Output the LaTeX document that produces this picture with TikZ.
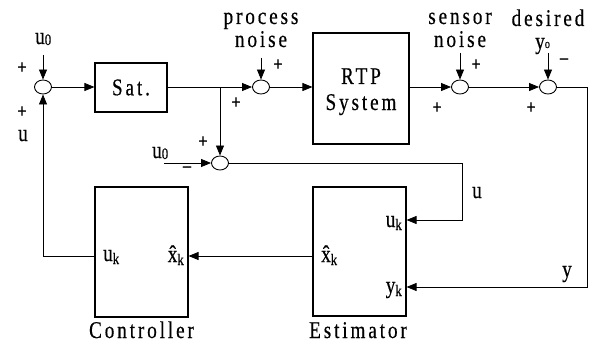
\documentclass[tikz,border=0pt]{standalone}
\usepackage{fontspec}
\setmainfont{Liberation Serif}[FakeStretch=0.8,LetterSpace=12,FakeBold=0.4]
\usetikzlibrary{arrows.meta,shapes.geometric}
\newcommand\sbs[2][3pt]{\raisebox{-#1}{\fontsize{16}{16}\selectfont #2}}
\begin{document}
\begin{tikzpicture}[x=1pt,y=-1pt,
  blk/.style={draw,line width=1.1pt,inner sep=0pt},
  sum/.style={draw,ellipse,line width=0.9pt,minimum width=17pt,minimum height=14pt,inner sep=0pt},
  ar/.style={-{Triangle[length=10pt,width=8pt]}},
  wire/.style={line width=0.8pt},
  lbl/.style={font=\fontsize{24}{24}\selectfont,inner sep=0pt},
  sg/.style={font=\fontsize{20}{20}\selectfont\bfseries,inner sep=0pt}]
\useasboundingbox (0,0) rectangle (594,345);
% summing junctions
\node[sum] (s1) at (43,87) {};
\node[sum] (sp) at (261,87) {};
\node[sum] (s2) at (220,163) {};
\node[sum] (ss) at (460,87) {};
\node[sum] (sd) at (548,87) {};
% blocks
\node[blk,lbl,minimum width=72pt,minimum height=49pt] (sat) at (131,87.5) {Sat.};
\node[blk,minimum width=96pt,minimum height=111pt] (rtp) at (361,88.5) {};
\node[lbl,anchor=base] (rtpA) at (361,84) {RTP};
\node[lbl,anchor=base] (rtpB) at (361,110) {System};
\node[blk,minimum width=93pt,minimum height=129pt] (est) at (359.5,251.5) {};
\node[blk,minimum width=93pt,minimum height=130pt] (ctl) at (141.5,252) {};
% block captions
\node[lbl,anchor=base] (ctlT) at (141.5,338) {Controller};
\node[lbl,anchor=base] (estT) at (358,338) {Estimator};
% port labels
\node[lbl,anchor=base east] (estu) at (402,227) {u\sbs{k}};
\node[lbl,anchor=base east] (esty) at (402,293) {y\sbs{k}};
\node[lbl,anchor=base west] (estx) at (321,262) {\^{x}\sbs{k}};
\node[lbl,anchor=base west] (ctlu) at (103,261) {u\sbs{k}};
\node[lbl,anchor=base east] (ctlx) at (184,262) {\^{x}\sbs{k}};
% input labels
\node[lbl,anchor=base west] (u0t) at (35,44) {u\sbs[1pt]{0}};
\node[lbl,anchor=base] (pn1) at (261,24) {process};
\node[lbl,anchor=base] (pn2) at (261,47) {noise};
\node[lbl,anchor=base] (sn1) at (460,24) {sensor};
\node[lbl,anchor=base] (sn2) at (460,47) {noise};
\node[lbl,anchor=base] (ds1) at (548,26) {desired};
\node[lbl,anchor=base west] (ds2) at (535,49) {y\sbs[-1pt]{\fontsize{13}{13}\selectfont o}};
\node[lbl,anchor=base west] (u0b) at (152,158) {u\sbs[1pt]{0}};
\node[lbl,anchor=base] (ul) at (23,141) {u};
\node[lbl,anchor=base] (ur) at (477,198) {u};
\node[lbl,anchor=base] (yr) at (567,277) {y};
% signs
\node[sg] (p1) at (22,68) {+};
\node[sg] (p2) at (22,112) {+};
\node[sg] (p3) at (278,65) {+};
\node[sg] (p4) at (236,103) {+};
\node[sg] (p5) at (203,142) {+};
\node[sg] (m1) at (187,169) {--};
\node[sg] (p6) at (476,65) {+};
\node[sg] (p7) at (437,108) {+};
\node[sg] (m2) at (564,61) {--};
\node[sg] (p8) at (531,108) {+};
% coordinates
\coordinate (u0a) at (43,55);
\coordinate (pna) at (261,58);
\coordinate (sna) at (460,53);
\coordinate (dya) at (548,53);
\coordinate (u0s) at (164,163);
\coordinate (br) at (220,87);
\coordinate (uc) at (462,220);
\coordinate (rr) at (587,287);
\coordinate (xh) at (250,256);
\coordinate (cl) at (43,256);
% connectors
\draw[wire,ar] (s1.east) -- (sat.west |- s1.east);
\draw[wire,ar] (sat.east |- sp.west) -- (sp.west);
\draw[wire,ar] (br) -- (s2.north);
\draw[wire,ar] (sp.east) -- (rtp.west |- sp.east);
\draw[wire,ar] (rtp.east |- ss.west) -- (ss.west);
\draw[wire,ar] (ss.east) -- (sd.west);
\draw[wire,ar] (sd.east) -| (rr) -- (est.east |- rr);
\draw[wire,ar] (s2.east) -| (uc) -- (est.east |- uc);
\draw[wire,ar] (est.west |- xh) -- (ctl.east |- xh);
\draw[wire,ar] (ctl.west |- cl) -- (cl) -- (s1.south);
\draw[wire,ar] (u0a) -- (s1.north);
\draw[wire,ar] (pna) -- (sp.north);
\draw[wire,ar] (sna) -- (ss.north);
\draw[wire,ar] (dya) -- (sd.north);
\draw[wire,ar] (u0s) -- (s2.west);
\end{tikzpicture}
\end{document}
